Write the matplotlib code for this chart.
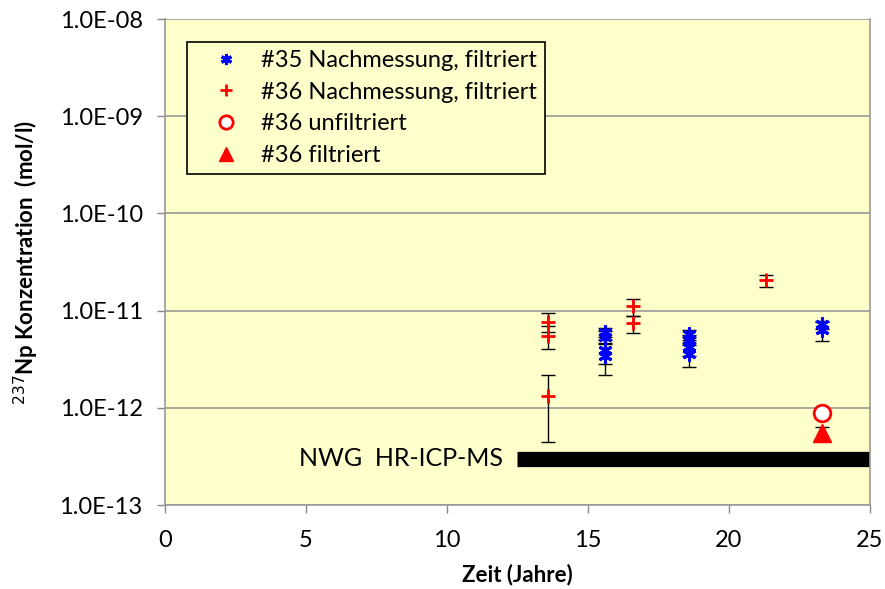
import numpy as np
import matplotlib
matplotlib.use('Agg')
import matplotlib.pyplot as plt
from matplotlib.ticker import FixedLocator, NullLocator

plt.rcParams['font.family'] = ['Lato', 'DejaVu Sans']

# #35 Nachmessung, filtriert
t35 = [15.6, 15.6, 15.6, 15.6, 18.6, 18.6, 18.6, 18.6, 23.3, 23.3]
c35 = [6.0e-12, 5.3e-12, 3.9e-12, 3.4e-12, 5.8e-12, 5.0e-12, 4.2e-12, 3.6e-12, 7.2e-12, 6.3e-12]
e35 = [0.7e-12, 0.8e-12, 1.1e-12, 1.2e-12, 0.5e-12, 0.6e-12, 0.8e-12, 1.0e-12, 0.7e-12, 1.4e-12]

# #36 Nachmessung, filtriert
t36 = [13.6, 13.6, 13.6, 16.6, 16.6, 21.3]
c36 = [7.7e-12, 5.5e-12, 1.32e-12, 1.11e-11, 7.4e-12, 2.05e-11]
e36 = [1.7e-12, 1.5e-12, 0.88e-12, 2.2e-12, 1.5e-12, 3.0e-12]

# #36 unfiltriert / filtriert
t36u = [23.3]
c36u = [8.8e-13]
t36f = [23.3]
c36f = [5.5e-13]
e36f = [0.9e-13]

# Nachweisgrenze HR-ICP-MS
nwg_x = [12.5, 25]
nwg_y = [3.0e-13, 3.0e-13]

bg = '#FFFFCC'

fig = plt.figure(figsize=(8.85, 5.89), dpi=100)
ax = fig.add_axes([0.1864, 0.1426, 0.7966, 0.8251])
ax.set_facecolor(bg)

ax.plot(nwg_x, nwg_y, color='black', lw=11, solid_capstyle='butt', zorder=2)
ax.text(12.0, 3.0e-13, 'NWG  HR-ICP-MS', ha='right', va='center', fontsize=18)

ax.errorbar(t35, c35, yerr=e35, fmt='none', ecolor='black', elinewidth=1, capsize=5, zorder=3)
ax.errorbar(t36, c36, yerr=e36, fmt='none', ecolor='black', elinewidth=1, capsize=5, zorder=3)
ax.errorbar(t36f, c36f, yerr=e36f, fmt='none', ecolor='black', elinewidth=1, capsize=5, zorder=3)

ax.plot(t35, c35, ls='none', marker=(6, 2, 0), ms=10, mec='blue', mew=2.2, zorder=4,
        label='#35 Nachmessung, filtriert')
ax.plot(t36, c36, ls='none', marker='+', ms=10, mec='red', mew=2, zorder=4,
        label='#36 Nachmessung, filtriert')
ax.plot(t36u, c36u, ls='none', marker='o', ms=12, mfc='white', mec='red', mew=2, zorder=4,
        label='#36 unfiltriert')
ax.plot(t36f, c36f, ls='none', marker='^', ms=13, mfc='red', mec='red', zorder=5,
        label='#36 filtriert')

ax.set_yscale('log')
ax.set_ylim(1e-13, 1e-8)
ax.set_xlim(0, 25)
yt = [1e-13, 1e-12, 1e-11, 1e-10, 1e-9, 1e-8]
ylabels = ['1.0E-13', '1.0E-12', '1.0E-11', '1.0E-10', '1.0E-09', '1.0E-08']
ax.yaxis.set_major_locator(FixedLocator(yt))
ax.yaxis.set_minor_locator(NullLocator())
ax.set_yticklabels(ylabels)
ax.set_xticks([0, 5, 10, 15, 20, 25])
ax.tick_params(axis='both', labelsize=17, color='#888888', length=6, width=1, direction='out')
ax.tick_params(axis='y', pad=10)
ax.tick_params(axis='x', pad=12)
ax.grid(axis='y', color='#999999', lw=1.2)
ax.set_axisbelow(True)
for s in ['top', 'right', 'left', 'bottom']:
    ax.spines[s].set_color('#999999')
    ax.spines[s].set_linewidth(1.2)
ax.spines['top'].set_visible(False)

ax.set_xlabel('Zeit (Jahre)', fontsize=16, fontweight='bold', labelpad=9)
ax.set_ylabel('$^{237}$Np Konzentration  (mol/l)', fontsize=16, fontweight='bold', labelpad=13)

leg = ax.legend(loc='upper left', bbox_to_anchor=(0.031, 0.953), fontsize=17, frameon=True,
                fancybox=False, edgecolor='black', facecolor=bg, framealpha=1,
                handlelength=2.6, handletextpad=0.2, borderpad=0.35, labelspacing=0.45,
                borderaxespad=0, markerscale=0.8)
leg.get_frame().set_linewidth(1.2)

fig.savefig('out.png', dpi=100, facecolor='white')
